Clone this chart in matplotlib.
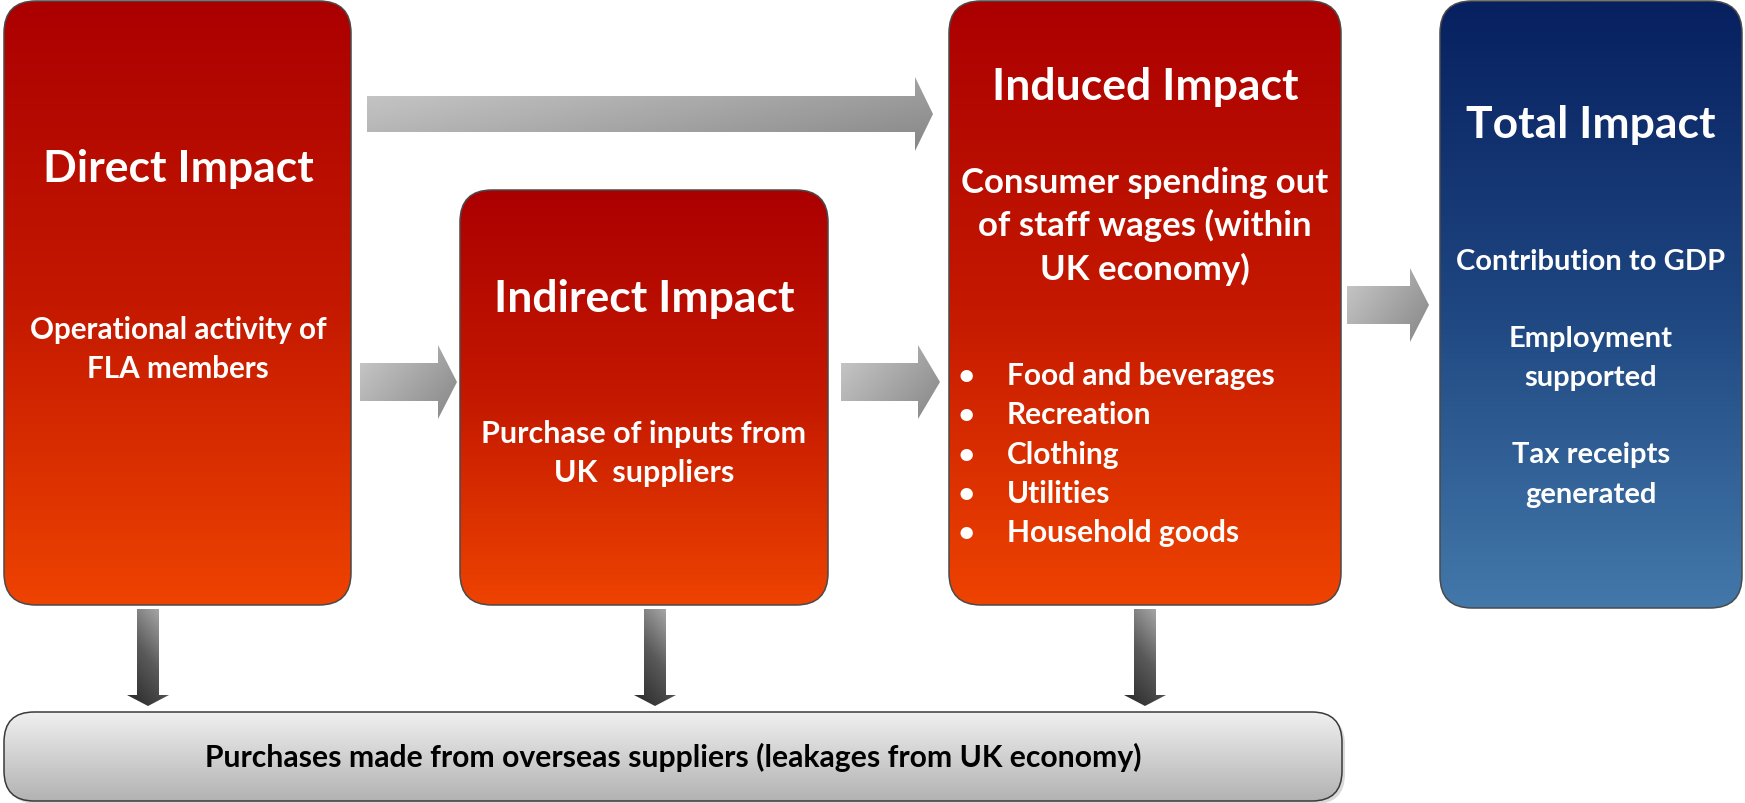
import numpy as np
import matplotlib
matplotlib.use("Agg")
import matplotlib.pyplot as plt
from matplotlib.patches import FancyBboxPatch, Polygon
from matplotlib.colors import LinearSegmentedColormap

# ---------------- content ----------------
box_titles = ["Direct Impact", "Indirect Impact", "Induced Impact", "Total Impact"]
direct_lines = ["Operational activity of", "FLA members"]
indirect_lines = ["Purchase of inputs from", "UK  suppliers"]
induced_lines = ["Consumer spending out", "of staff wages (within", "UK economy)"]
induced_items = ["Food and beverages", "Recreation", "Clothing", "Utilities", "Household goods"]
total_lines = ["Contribution to GDP", "Employment", "supported", "Tax receipts", "generated"]
leakage_label = "Purchases made from overseas suppliers (leakages from UK economy)"

# ---------------- canvas ----------------
W, H, DPI = 1745, 804, 100
FONT = ["Lato", "DejaVu Sans"]
fig = plt.figure(figsize=(W / DPI, H / DPI), dpi=DPI)
ax = fig.add_axes([0, 0, 1, 1])
ax.axis("off")

RED = ["#AB0000", "#C41800", "#EE4300"]
BLUE = ["#072060", "#1E4680", "#4378AA"]
GREY_BAR = ["#F0F0F0", "#B2B2B2"]
ARROW_LIGHT = ["#CBCBCB", "#868686"]


def gradient(colors, kind="v", n=256):
    cmap = LinearSegmentedColormap.from_list("g", colors)
    t = np.linspace(0, 1, n)
    X, Y = np.meshgrid(t, t)
    if kind == "v":
        g = Y
    elif kind == "diag":
        g = (X * 0.6 + Y * 0.4)
    elif kind == "down":
        g = (1 - X) * 0.35 + Y * 0.65
    else:
        g = X
    return g, cmap


def fill(patch, colors, kind, extent, z):
    ax.add_patch(patch)
    g, cmap = gradient(colors, kind)
    x0, x1, y0, y1 = extent
    im = ax.imshow(g, cmap=cmap, extent=(x0, x1, y1, y0), origin="upper",
                   aspect="auto", interpolation="bilinear", zorder=z)
    im.set_clip_path(patch)


def rbox(x0, y0, x1, y1, colors, r=32, ec="#4a4a4a", z=2, shadow=False):
    if shadow:
        sh = FancyBboxPatch((x0 + 3, y0 + 3), x1 - x0, y1 - y0,
                            boxstyle=f"round,pad=0,rounding_size={r}",
                            fc="#d9d9d9", ec="none", zorder=z - 0.5)
        ax.add_patch(sh)
    p = FancyBboxPatch((x0, y0), x1 - x0, y1 - y0,
                       boxstyle=f"round,pad=0,rounding_size={r}",
                       fc="none", ec="none", zorder=z)
    fill(p, colors, "v", (x0, x1, y0, y1), z)
    e = FancyBboxPatch((x0, y0), x1 - x0, y1 - y0,
                       boxstyle=f"round,pad=0,rounding_size={r}",
                       fc="none", ec=ec, lw=1.1, zorder=z + 0.2)
    ax.add_patch(e)


def harrow(x0, xh, xt, yc, hs, hh, z=3):
    pts = [(x0, yc - hs), (xh, yc - hs), (xh, yc - hh), (xt, yc),
           (xh, yc + hh), (xh, yc + hs), (x0, yc + hs)]
    p = Polygon(pts, closed=True, fc="none", ec="none", zorder=z)
    fill(p, ARROW_LIGHT, "diag", (x0, xt, yc - hh, yc + hh), z)


def varrow(xc, y0, yh, yt, hs, hh, z=3):
    pts = [(xc - hs, y0), (xc + hs, y0), (xc + hs, yh), (xc + hh, yh),
           (xc, yt), (xc - hh, yh), (xc - hs, yh)]
    p = Polygon(pts, closed=True, fc="none", ec="none", zorder=z)
    fill(p, ["#B5B5B5", "#5a5a5a", "#262626"], "down", (xc - hh, xc + hh, y0, yt), z)


def txt(x, y, s, size, color="white", ha="center"):
    ax.text(x, y, s, fontsize=size, color=color, ha=ha, va="baseline",
            fontweight="bold", family=FONT, zorder=6)


# ---------------- boxes ----------------
rbox(4, 2, 351, 606, RED)
rbox(460, 191, 828, 606, RED)
rbox(949, 2, 1341, 606, RED)
rbox(1440, 2, 1742, 609, BLUE)
rbox(4, 713, 1342, 802, GREY_BAR, r=30, ec="#3a3a3a", shadow=True)

# ---------------- arrows ----------------
harrow(367, 915, 933, 115, 18, 37)
harrow(360, 438, 457, 383, 19, 37)
harrow(841, 918, 940, 383, 19, 37)
harrow(1347, 1410, 1429, 306, 19, 37)
for xc in (148, 655, 1145):
    varrow(xc, 610, 696, 707, 11, 21)

# ---------------- text ----------------
TITLE = 32
txt(178, 182, box_titles[0], TITLE)
txt(644, 312, box_titles[1], TITLE)
txt(1145, 100, box_titles[2], TITLE)
txt(1591, 138, box_titles[3], TITLE)

for s, y in zip(direct_lines, (339, 378)):
    txt(178, y, s, 21.3)
for s, y in zip(indirect_lines, (443, 482)):
    txt(644, y, s, 22)
for s, y in zip(induced_lines, (193, 236, 280)):
    txt(1145, y, s, 25)
for s, y in zip(induced_items, (385, 424.5, 464, 503, 542)):
    ax.text(966, y - 8, "\u2022", fontsize=24, color="white", ha="center",
            va="center", family=FONT, zorder=6)
    txt(1007, y, s, 21.5, ha="left")
for s, y in zip(total_lines, (270, 347, 386, 463, 503)):
    txt(1591, y, s, 21)

txt(673, 767, leakage_label, 21.7, color="black")

ax.set_xlim(0, W)
ax.set_ylim(H, 0)
fig.savefig("out.png", dpi=DPI, facecolor="white")
